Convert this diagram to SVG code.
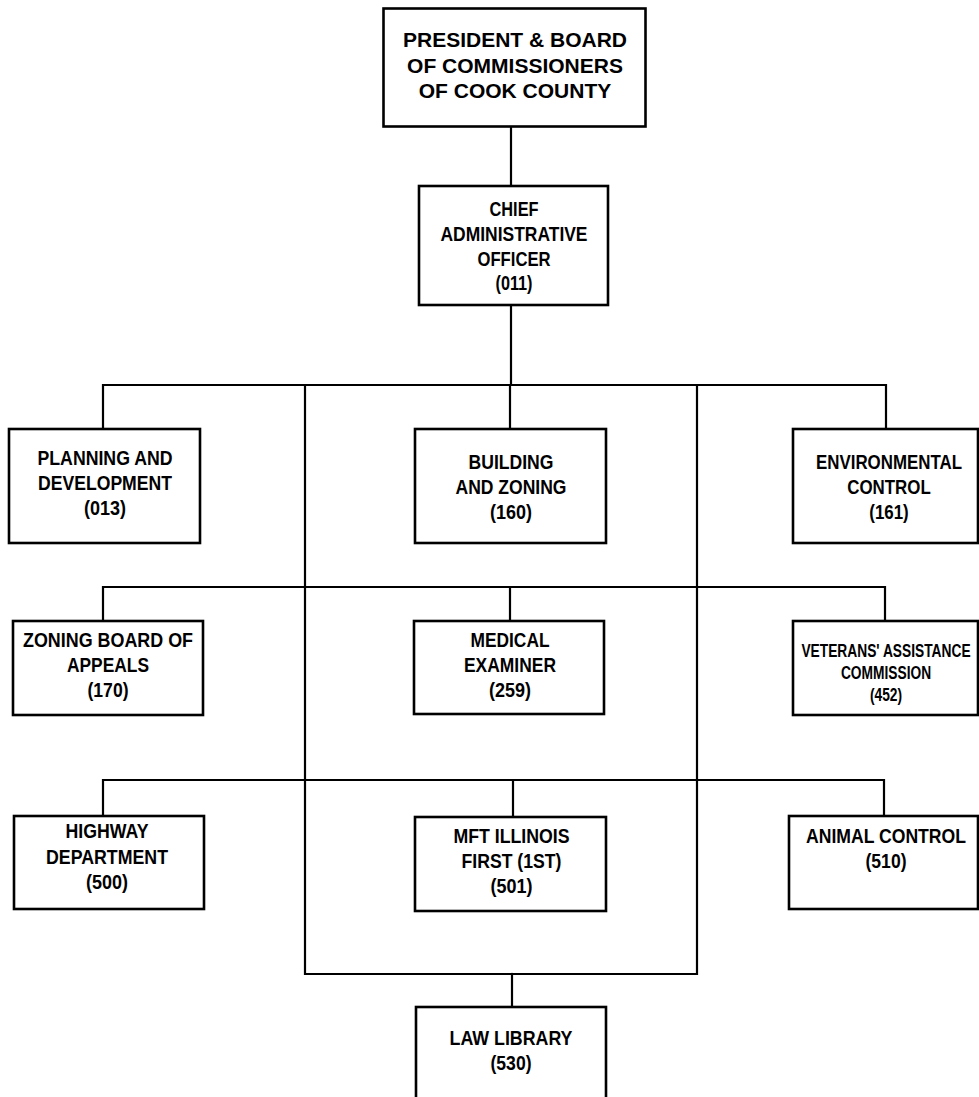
<svg xmlns="http://www.w3.org/2000/svg" width="979" height="1097" viewBox="0 0 979 1097">
<style>
.box{fill:#fff;stroke:#000;stroke-width:2.6}
.ln{fill:none;stroke:#000;stroke-width:2.2;stroke-linecap:square}
.t1{font-family:"Liberation Sans",Arial,sans-serif;font-weight:bold;font-size:21px;text-anchor:middle;fill:#000}
.t{font-family:"Liberation Sans Narrow","Liberation Sans",Arial,sans-serif;font-weight:bold;font-size:20px;text-anchor:middle;fill:#000}
.tw{font-family:"Liberation Sans",Arial,sans-serif;font-weight:bold;font-size:20px;text-anchor:middle;fill:#000}
.tws{font-family:"Liberation Sans",Arial,sans-serif;font-weight:bold;font-size:18px;text-anchor:middle;fill:#000}
</style>
<rect width="979" height="1097" fill="#fff"/>
<g id="connectors">
<path class="ln" d="M511 127V186M511 305V385"/>
<path class="ln" d="M103 385H886M103 385V429M510 385V429M886 385V429"/>
<path class="ln" d="M305 385V974H697V385"/>
<path class="ln" d="M103 587H885M103 587V621M510 587V621M885 587V621"/>
<path class="ln" d="M103 780H884M103 780V816M513 780V817M884 780V816"/>
<path class="ln" d="M512 974V1007"/>
</g>
<g id="president">
<rect class="box" x="383.5" y="8.5" width="262" height="118"/>
<text class="t1" x="515" y="47">PRESIDENT &amp; BOARD</text>
<text class="t1" x="515" y="72.5">OF COMMISSIONERS</text>
<text class="t1" x="515" y="98">OF COOK COUNTY</text>
</g>
<g id="cao">
<rect class="box" x="419" y="186" width="189" height="119"/>
<text class="t" x="514" y="216" textLength="49" lengthAdjust="spacingAndGlyphs">CHIEF</text>
<text class="t" x="514" y="241" textLength="147" lengthAdjust="spacingAndGlyphs">ADMINISTRATIVE</text>
<text class="t" x="514" y="266" textLength="73" lengthAdjust="spacingAndGlyphs">OFFICER</text>
<text class="t" x="514" y="290" textLength="37" lengthAdjust="spacingAndGlyphs">(011)</text>
</g>
<g id="planning">
<rect class="box" x="9" y="429" width="191" height="114"/>
<text class="t" x="105" y="465" textLength="135" lengthAdjust="spacingAndGlyphs">PLANNING AND</text>
<text class="t" x="105" y="490" textLength="134" lengthAdjust="spacingAndGlyphs">DEVELOPMENT</text>
<text class="t" x="105" y="515" textLength="42" lengthAdjust="spacingAndGlyphs">(013)</text>
</g>
<g id="building">
<rect class="box" x="415" y="429" width="191" height="114"/>
<text class="t" x="511" y="469" textLength="85" lengthAdjust="spacingAndGlyphs">BUILDING</text>
<text class="t" x="511" y="494" textLength="111" lengthAdjust="spacingAndGlyphs">AND ZONING</text>
<text class="t" x="511" y="519" textLength="42" lengthAdjust="spacingAndGlyphs">(160)</text>
</g>
<g id="environmental">
<rect class="box" x="793" y="429" width="185" height="114"/>
<g transform="translate(889 0) scale(0.845 1)">
<text class="tw" x="0" y="469">ENVIRONMENTAL</text>
<text class="tw" x="0" y="494">CONTROL</text>
<text class="tw" x="0" y="519">(161)</text>
</g>
</g>
<g id="zoning">
<rect class="box" x="13" y="621" width="190" height="94"/>
<text class="t" x="108" y="647" textLength="170" lengthAdjust="spacingAndGlyphs">ZONING BOARD OF</text>
<text class="t" x="108" y="672" textLength="82" lengthAdjust="spacingAndGlyphs">APPEALS</text>
<text class="t" x="108" y="697" textLength="41" lengthAdjust="spacingAndGlyphs">(170)</text>
</g>
<g id="medical">
<rect class="box" x="414" y="621" width="190" height="93"/>
<text class="t" x="510" y="647" textLength="79" lengthAdjust="spacingAndGlyphs">MEDICAL</text>
<text class="t" x="510" y="672" textLength="92" lengthAdjust="spacingAndGlyphs">EXAMINER</text>
<text class="t" x="510" y="697" textLength="42" lengthAdjust="spacingAndGlyphs">(259)</text>
</g>
<g id="veterans">
<rect class="box" x="793" y="621" width="185" height="94"/>
<g transform="translate(886 0) scale(0.765 1)">
<text class="tws" x="0" y="657">VETERANS' ASSISTANCE</text>
<text class="tws" x="0" y="679">COMMISSION</text>
<text class="tws" x="0" y="701">(452)</text>
</g>
</g>
<g id="highway">
<rect class="box" x="14" y="816" width="190" height="93"/>
<text class="t" x="107" y="838" textLength="83" lengthAdjust="spacingAndGlyphs">HIGHWAY</text>
<text class="t" x="107" y="864" textLength="122" lengthAdjust="spacingAndGlyphs">DEPARTMENT</text>
<text class="t" x="107" y="889" textLength="42" lengthAdjust="spacingAndGlyphs">(500)</text>
</g>
<g id="mft">
<rect class="box" x="415" y="817" width="191" height="94"/>
<text class="t" x="511.5" y="843" textLength="116" lengthAdjust="spacingAndGlyphs">MFT ILLINOIS</text>
<text class="t" x="511.5" y="868" textLength="100" lengthAdjust="spacingAndGlyphs">FIRST (1ST)</text>
<text class="t" x="511.5" y="893" textLength="42" lengthAdjust="spacingAndGlyphs">(501)</text>
</g>
<g id="animal">
<rect class="box" x="789" y="816" width="189" height="93"/>
<g transform="translate(886 0) scale(0.88 1)">
<text class="tw" x="0" y="843">ANIMAL CONTROL</text>
<text class="tw" x="0" y="868">(510)</text>
</g>
</g>
<g id="lawlibrary">
<rect class="box" x="416" y="1007" width="190" height="110"/>
<text class="t" x="511" y="1045" textLength="123" lengthAdjust="spacingAndGlyphs">LAW LIBRARY</text>
<text class="t" x="511" y="1070" textLength="41" lengthAdjust="spacingAndGlyphs">(530)</text>
</g>
</svg>
